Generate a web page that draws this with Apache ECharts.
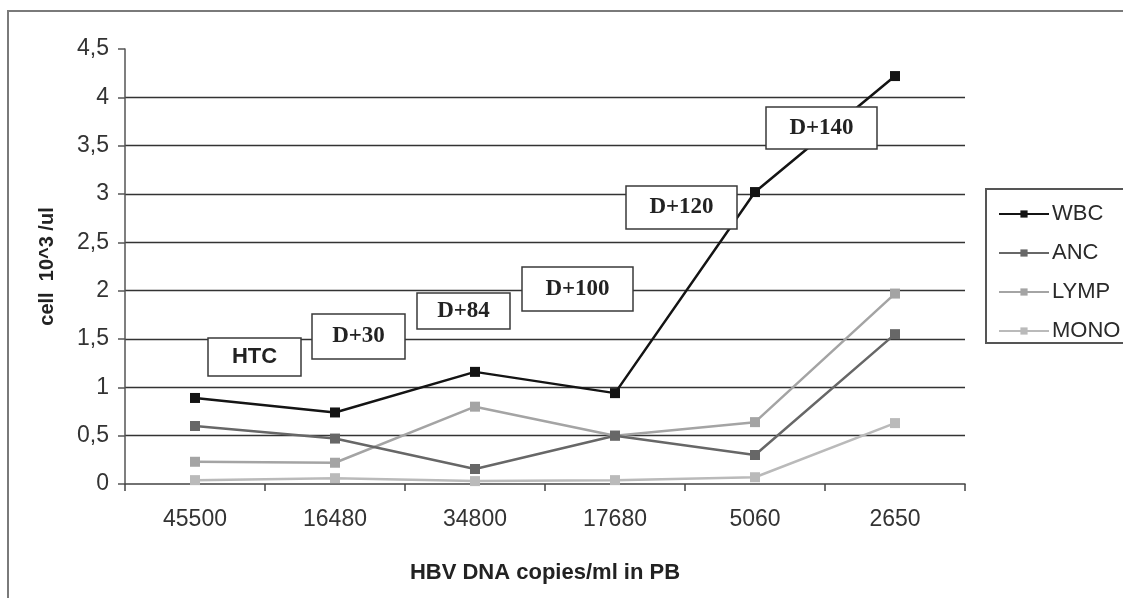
<!DOCTYPE html>
<html>
<head>
<meta charset="utf-8">
<script src="https://cdn.jsdelivr.net/npm/echarts@6/dist/echarts.min.js"></script>
<style>
html,body{margin:0;padding:0;background:#fff;}
#chart{width:1123px;height:598px;}
</style>
</head>
<body>
<div id="chart"></div>
<script>
const categories = ['45500', '16480', '34800', '17680', '5060', '2650'];
const wbc  = [0.89, 0.74, 1.16, 0.94, 3.02, 4.22];
const anc  = [0.60, 0.47, 0.155, 0.50, 0.30, 1.55];
const lymp = [0.23, 0.22, 0.80, 0.50, 0.64, 1.97];
const mono = [0.04, 0.06, 0.03, 0.04, 0.07, 0.63];
const seriesNames = ['WBC', 'ANC', 'LYMP', 'MONO'];
const annotations = ['HTC', 'D+30', 'D+84', 'D+100', 'D+120', 'D+140'];

const colors = ['#141414', '#676767', '#a4a4a4', '#bababa'];
const dataSets = [wbc, anc, lymp, mono];

// annotation box layout (pixels): [x, y, w, h]
const boxLayout = [
  [208, 338, 93, 38],
  [312, 314, 93, 45],
  [417, 293, 93, 36],
  [522, 267, 111, 44],
  [626, 186, 111, 43],
  [766, 107, 111, 42]
];

const chart = echarts.init(document.getElementById('chart'));

const graphics = [
  {type: 'rect', shape: {x: 8, y: 11, width: 1300, height: 800},
   style: {fill: 'none', stroke: '#7a7a7a', lineWidth: 2}, z: 0, silent: true},
  {type: 'rect', shape: {x: 986, y: 189, width: 200, height: 154},
   style: {fill: '#fff', stroke: '#555', lineWidth: 2}, z: 5}
];
annotations.forEach((t, i) => {
  const b = boxLayout[i];
  const isSans = i === 0;
  graphics.push(
    {type: 'rect', z: 100, shape: {x: b[0], y: b[1], width: b[2], height: b[3]},
     style: {fill: '#fff', stroke: '#3a3a3a', lineWidth: 1.5}},
    {type: 'text', z: 101, x: b[0] + b[2] / 2, y: b[1] + b[3] / 2,
     style: {text: t, fill: '#222', align: 'center', verticalAlign: 'middle',
       font: isSans ? 'bold 22px "Liberation Sans", Arial, sans-serif'
                    : 'bold 23px "Liberation Serif", "Times New Roman", serif'}}
  );
});

chart.setOption({
  animation: false,
  backgroundColor: '#fff',
  grid: {left: 125, right: 158, top: 49, bottom: 114, containLabel: false},
  legend: {
    orient: 'vertical', left: 993, top: 196,
    itemWidth: 50, itemHeight: 9, itemGap: 13,
    textStyle: {fontFamily: '"Liberation Sans", Arial, sans-serif', fontSize: 22, color: '#2a2a2a', lineHeight: 26, padding: [0, 0, 0, -2]},
    data: seriesNames,
    z: 10
  },
  xAxis: {
    type: 'category', data: categories, boundaryGap: true,
    name: 'HBV DNA copies/ml in PB', nameLocation: 'middle', nameGap: 78,
    nameTextStyle: {fontFamily: '"Liberation Sans", Arial, sans-serif', fontWeight: 'bold', fontSize: 22, color: '#222'},
    axisLine: {lineStyle: {color: '#444', width: 1.5}},
    axisTick: {show: true, length: 7, lineStyle: {color: '#444', width: 1.5}},
    axisLabel: {fontFamily: '"Liberation Sans", Arial, sans-serif', fontSize: 23, color: '#333', margin: 24}
  },
  yAxis: {
    type: 'value', min: 0, max: 4.5, interval: 0.5,
    name: 'cell  10^3 /ul', nameLocation: 'middle', nameGap: 68, nameRotate: 90,
    nameTextStyle: {fontFamily: '"Liberation Sans", Arial, sans-serif', fontWeight: 'bold', fontSize: 20, color: '#222'},
    axisLine: {show: true, lineStyle: {color: '#555', width: 1.5}},
    axisTick: {show: true, length: 7, lineStyle: {color: '#555', width: 1.5}},
    axisLabel: {fontFamily: '"Liberation Sans", Arial, sans-serif', fontSize: 23, color: '#333', margin: 16,
      formatter: v => String(v).replace('.', ',')},
    splitLine: {show: true, showMaxLine: false, showMinLine: false, lineStyle: {color: '#333', width: 1.4}}
  },
  series: seriesNames.map((n, i) => ({
    name: n, type: 'line', data: dataSets[i],
    symbol: 'rect', symbolSize: 10, showSymbol: true,
    lineStyle: {color: colors[i], width: 2.5},
    itemStyle: {color: colors[i]},
    z: 10 - i
  })),
  graphic: graphics
});
</script>
</body>
</html>
